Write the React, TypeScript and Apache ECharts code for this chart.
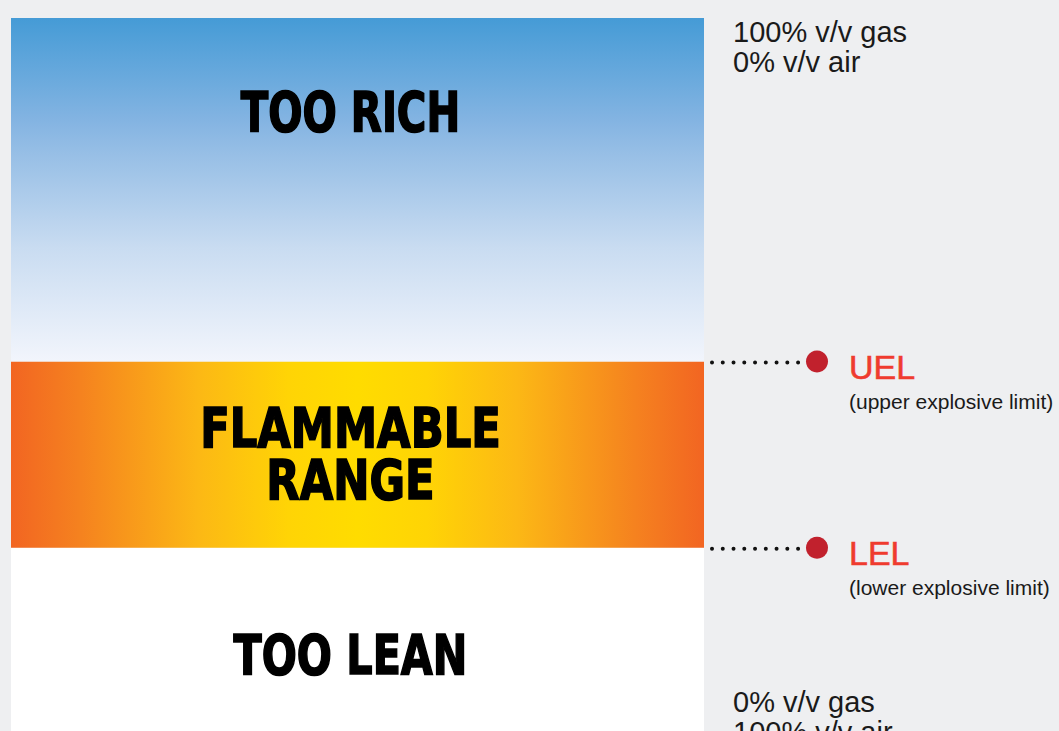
import React, { useEffect, useRef } from "react";
import * as echarts from "echarts";

// Diagram zones, bottom to top (units of diagram height)
const zoneNames = ["TOO LEAN", "FLAMMABLE\nRANGE", "TOO RICH"];
const zoneSizes = [28.6, 25.1, 46.3];

// Explosive limits (same units)
const limitNames = ["LEL", "UEL"];
const limitDescriptions = ["(lower explosive limit)", "(upper explosive limit)"];
const limitValues = [28.6, 53.7];

// End-of-scale labels
const endLabels = ["0% v/v gas\n100% v/v air", "100% v/v gas\n0% v/v air"];
const endValues = [0, 100];

const HEAD_FONT = "'DejaVu Sans Condensed', 'DejaVu Sans', sans-serif";
const BODY_FONT = "'Liberation Sans', Arial, Helvetica, sans-serif";

export default function App() {
  const ref = useRef<HTMLDivElement>(null);

  useEffect(() => {
    if (!ref.current) return;
    const chart = echarts.init(ref.current, null, { renderer: "svg" });

    const fills: any[] = [
      "#ffffff",
      {
        type: "linear", x: 0, y: 0, x2: 1, y2: 0,
        colorStops: [
          { offset: 0, color: "#f26522" },
          { offset: 0.1, color: "#f5821f" },
          { offset: 0.27, color: "#fcb815" },
          { offset: 0.4, color: "#ffd405" },
          { offset: 0.5, color: "#ffdc00" },
          { offset: 0.6, color: "#ffd405" },
          { offset: 0.73, color: "#fcb815" },
          { offset: 0.9, color: "#f5821f" },
          { offset: 1, color: "#f26522" },
        ],
      },
      {
        type: "linear", x: 0, y: 0, x2: 0, y2: 1,
        colorStops: [
          { offset: 0, color: "#459bd6" },
          { offset: 0.3, color: "#84b4e2" },
          { offset: 0.38, color: "#94bde5" },
          { offset: 0.67, color: "#c9dcf1" },
          { offset: 1, color: "#f2f5fc" },
        ],
      },
    ];

    chart.setOption({
      animation: false,
      backgroundColor: "#eeeff1",
      grid: { left: 11, top: 18, width: 693, height: 742 },
      xAxis: { type: "category", data: ["mix"], show: false },
      yAxis: { type: "value", min: 0, max: 100, show: false },
      series: zoneNames.map((name, i) => ({
        type: "bar",
        name,
        stack: "zone",
        barWidth: "100%",
        data: [zoneSizes[i]],
        itemStyle: { color: fills[i] },
        silent: true,
      })),
    });

    const py = (v: number) => chart.convertToPixel({ yAxisIndex: 0 }, v) as number;
    const cx = (chart.convertToPixel({ xAxisIndex: 0 }, 0) as number) - 7;

    const graphics: any[] = [];

    // zone headings
    const scales = [0.82, 0.86, 0.8];
    let base = 0;
    zoneNames.forEach((name, i) => {
      const top = base + zoneSizes[i];
      const y = i === 2 ? py(top) + 94 : py(base + zoneSizes[i] / 2) - (i === 1 ? 1 : 0);
      base = top;
      graphics.push({
        type: "text",
        x: cx,
        y,
        z: 100,
        scaleX: scales[i],
        style: {
          text: name,
          fill: "#000",
          font: `bold 56px ${HEAD_FONT}`,
          lineHeight: 52,
          stroke: "#000",
          lineWidth: 1.6,
          align: "center",
          verticalAlign: "middle",
        },
        silent: true,
      });
    });

    limitValues.forEach((v, i) => {
      const y = py(v);
      graphics.push({
        type: "line",
        z: 100,
        shape: { x1: 712, y1: y + 1, x2: 799, y2: y + 1 },
        style: { stroke: "#111", lineWidth: 4, lineCap: "round", lineDash: [0.01, 10.75] },
      });
      graphics.push({
        type: "circle",
        z: 100,
        shape: { cx: 817, cy: y, r: 11 },
        style: { fill: "#c1212d" },
      });
      graphics.push({
        type: "text",
        z: 100,
        x: 849,
        y: y + 5,
        style: {
          text: limitNames[i],
          fill: "#ef3b2f",
          font: `34px ${BODY_FONT}`,
          stroke: "#ef3b2f",
          lineWidth: 0.6,
          verticalAlign: "middle",
          align: "left",
        },
      });
      graphics.push({
        type: "text",
        z: 100,
        x: 849,
        y: y + 40,
        style: {
          text: limitDescriptions[i],
          fill: "#1a1a1a",
          font: `21px ${BODY_FONT}`,
          verticalAlign: "middle",
          align: "left",
        },
      });
    });
    endValues.forEach((v, i) => {
      const y = py(v);
      graphics.push({
        type: "text",
        z: 100,
        x: 733,
        y: i === 1 ? y - 1 : y - 73,
        style: {
          text: endLabels[i],
          fill: "#1a1a1a",
          font: `29px ${BODY_FONT}`,
          lineHeight: 30,
          verticalAlign: "top",
          align: "left",
        },
      });
    });
    chart.setOption({ graphic: graphics });

    return () => chart.dispose();
  }, []);

  return (
    <div style={{ position: "fixed", left: 0, top: 0, width: 1059, height: 731, overflow: "hidden" }}>
      <div ref={ref} style={{ width: 1059, height: 800 }} />
    </div>
  );
}
